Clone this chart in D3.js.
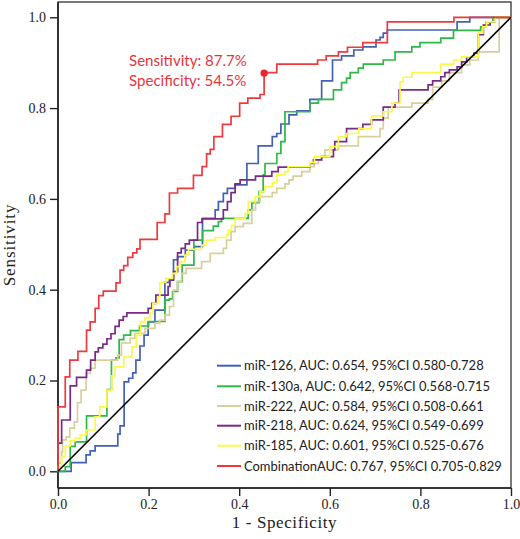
<!DOCTYPE html>
<html><head><meta charset="utf-8">
<script src="https://cdn.jsdelivr.net/npm/d3@7/dist/d3.min.js"></script>
<style>
html,body{margin:0;padding:0;background:#fff;}
svg{display:block;}
</style>
</head><body>
<svg id="chart" width="520" height="539"></svg>
<script>
// ---------- data (fpr, tpr) ----------
const seriesNames = ["miR-126","miR-130a","miR-222","miR-218","miR-185","Combination"];
const legendLabels = [
  "miR-126, AUC: 0.654, 95%CI 0.580-0.728",
  "miR-130a, AUC: 0.642, 95%CI 0.568-0.715",
  "miR-222, AUC: 0.584, 95%CI 0.508-0.661",
  "miR-218, AUC: 0.624, 95%CI 0.549-0.699",
  "miR-185, AUC: 0.601, 95%CI 0.525-0.676",
  "CombinationAUC: 0.767, 95%CI 0.705-0.829"
];
const seriesColors = ["#4361b4","#2eb845","#d8cf9c","#7a2a86","#fbf94a","#ee3a3f"];

const mir126 = [[0,0],[0.029,0.019],[0.062,0.036],[0.071,0.045],[0.082,0.056],[0.132,0.082],[0.137,0.100],[0.146,0.197],[0.156,0.205],[0.165,0.217],[0.172,0.245],[0.181,0.276],[0.190,0.300],[0.199,0.329],[0.214,0.355],[0.236,0.416],[0.246,0.424],[0.255,0.466],[0.264,0.473],[0.281,0.487],[0.300,0.495],[0.319,0.557],[0.347,0.576],[0.354,0.594],[0.365,0.612],[0.374,0.623],[0.391,0.631],[0.417,0.678],[0.442,0.717],[0.473,0.737],[0.483,0.744],[0.492,0.765],[0.510,0.785],[0.527,0.794],[0.556,0.819],[0.582,0.860],[0.606,0.906],[0.626,0.915],[0.653,0.928],[0.673,0.935],[0.702,0.950],[0.711,0.956],[0.718,0.965],[0.727,0.972],[0.881,0.990],[0.909,1.0],[1,1]];

const mir130a = [[0,0],[0.016,0.010],[0.027,0.055],[0.038,0.065],[0.063,0.122],[0.108,0.180],[0.118,0.245],[0.128,0.250],[0.135,0.290],[0.145,0.300],[0.160,0.310],[0.180,0.320],[0.200,0.330],[0.236,0.377],[0.246,0.380],[0.253,0.396],[0.264,0.418],[0.274,0.454],[0.300,0.509],[0.319,0.530],[0.343,0.540],[0.354,0.550],[0.361,0.557],[0.420,0.576],[0.428,0.592],[0.444,0.616],[0.453,0.653],[0.457,0.678],[0.483,0.700],[0.492,0.726],[0.501,0.792],[0.556,0.811],[0.575,0.819],[0.608,0.840],[0.626,0.856],[0.637,0.866],[0.645,0.878],[0.663,0.888],[0.674,0.897],[0.718,0.906],[0.744,0.924],[0.781,0.935],[0.799,0.944],[0.845,0.954],[0.873,0.971],[0.933,0.979],[0.945,0.990],[0.960,1.0],[1,1]];

const mir222 = [[0,0],[0,0.018],[0.008,0.043],[0.010,0.069],[0.018,0.076],[0.026,0.095],[0.036,0.109],[0.043,0.151],[0.051,0.179],[0.062,0.216],[0.071,0.227],[0.082,0.245],[0.132,0.256],[0.140,0.283],[0.159,0.293],[0.170,0.304],[0.192,0.315],[0.214,0.326],[0.225,0.333],[0.236,0.344],[0.246,0.363],[0.255,0.399],[0.263,0.418],[0.273,0.436],[0.283,0.447],[0.317,0.462],[0.336,0.480],[0.365,0.491],[0.372,0.509],[0.382,0.528],[0.391,0.539],[0.409,0.546],[0.428,0.576],[0.436,0.594],[0.446,0.605],[0.473,0.614],[0.483,0.623],[0.501,0.633],[0.510,0.642],[0.519,0.650],[0.538,0.660],[0.556,0.671],[0.566,0.678],[0.575,0.686],[0.582,0.693],[0.589,0.708],[0.619,0.717],[0.663,0.737],[0.711,0.755],[0.718,0.778],[0.729,0.802],[0.781,0.811],[0.817,0.819],[0.827,0.846],[0.847,0.860],[0.864,0.878],[0.891,0.895],[0.909,0.906],[0.928,0.924],[0.974,0.998],[1,1]];

const mir218 = [[0,0],[0,0.062],[0.008,0.113],[0.027,0.188],[0.041,0.207],[0.063,0.223],[0.072,0.245],[0.082,0.263],[0.089,0.272],[0.099,0.280],[0.108,0.292],[0.117,0.303],[0.126,0.319],[0.135,0.333],[0.144,0.341],[0.152,0.349],[0.199,0.359],[0.207,0.370],[0.216,0.388],[0.243,0.407],[0.247,0.421],[0.255,0.440],[0.264,0.481],[0.272,0.491],[0.281,0.501],[0.290,0.509],[0.308,0.548],[0.318,0.556],[0.365,0.576],[0.374,0.594],[0.382,0.614],[0.391,0.633],[0.402,0.642],[0.436,0.650],[0.472,0.660],[0.486,0.670],[0.556,0.678],[0.564,0.686],[0.582,0.693],[0.608,0.708],[0.611,0.726],[0.637,0.755],[0.673,0.764],[0.692,0.774],[0.718,0.802],[0.744,0.811],[0.753,0.840],[0.817,0.851],[0.827,0.860],[0.845,0.869],[0.854,0.878],[0.864,0.884],[0.881,0.891],[0.891,0.902],[0.902,0.912],[0.918,0.921],[0.928,0.962],[0.939,0.983],[0.954,0.990],[0.965,1.0],[1,1]];

const mir185 = [[0,0],[0,0.010],[0.008,0.032],[0.016,0.056],[0.027,0.067],[0.038,0.073],[0.049,0.080],[0.062,0.091],[0.082,0.120],[0.092,0.142],[0.108,0.179],[0.119,0.210],[0.126,0.230],[0.145,0.252],[0.163,0.274],[0.173,0.300],[0.182,0.329],[0.192,0.338],[0.203,0.348],[0.209,0.370],[0.221,0.385],[0.225,0.416],[0.238,0.425],[0.253,0.436],[0.262,0.451],[0.269,0.462],[0.280,0.476],[0.288,0.489],[0.317,0.498],[0.328,0.509],[0.347,0.515],[0.372,0.520],[0.376,0.531],[0.383,0.542],[0.391,0.557],[0.413,0.568],[0.420,0.594],[0.435,0.605],[0.446,0.616],[0.457,0.627],[0.473,0.636],[0.483,0.653],[0.501,0.660],[0.508,0.671],[0.556,0.680],[0.566,0.693],[0.600,0.715],[0.619,0.737],[0.637,0.744],[0.664,0.755],[0.692,0.783],[0.718,0.792],[0.737,0.811],[0.755,0.858],[0.762,0.868],[0.781,0.878],[0.845,0.897],[0.873,0.906],[0.891,0.913],[0.928,0.965],[0.938,0.979],[0.946,0.990],[0.965,1.0],[1,1]];

const combination = [[0,0],[0,0.142],[0.016,0.208],[0.026,0.245],[0.044,0.264],[0.063,0.311],[0.071,0.329],[0.082,0.359],[0.090,0.387],[0.100,0.397],[0.128,0.415],[0.137,0.443],[0.145,0.453],[0.154,0.471],[0.165,0.481],[0.174,0.490],[0.181,0.511],[0.219,0.548],[0.236,0.567],[0.246,0.613],[0.264,0.623],[0.299,0.652],[0.318,0.671],[0.328,0.699],[0.336,0.709],[0.344,0.737],[0.363,0.764],[0.382,0.782],[0.401,0.811],[0.419,0.822],[0.446,0.830],[0.455,0.878],[0.483,0.897],[0.573,0.906],[0.592,0.915],[0.619,0.924],[0.639,0.934],[0.673,0.944],[0.727,0.990],[0.874,1.0],[1,1]];

const cutoffPoint = [0.455, 0.877];
const cutoffLabels = ["Sensitivity: 87.7%", "Specificity: 54.5%"];
const tickValues = [0, 0.2, 0.4, 0.6, 0.8, 1.0];
const xTitle = "1 - Specificity";
const yTitle = "Sensitivity";

const allSeries = [mir126, mir130a, mir222, mir218, mir185, combination];

// ---------- layout ----------
const svg = d3.select("#chart");
const frameL = 58, frameR = 511, frameT = 2, frameB = 488;
const x = d3.scaleLinear().domain([0,1]).range([58, 511]);
const y = d3.scaleLinear().domain([0,1]).range([471.3, 17.3]);

// frame
svg.append("rect").attr("x", frameL).attr("y", frameT)
  .attr("width", frameR-frameL).attr("height", frameB-frameT)
  .attr("fill","none").attr("stroke","#222").attr("stroke-width",1.2);

// axes
const serif = "'Liberation Serif','Times New Roman',serif";
const yAxis = svg.append("g").attr("transform",`translate(${frameL},0)`)
  .call(d3.axisLeft(y).tickValues(tickValues).tickFormat(d3.format(".1f")).tickSize(8).tickPadding(4));
const xAxis = svg.append("g").attr("transform",`translate(0,${frameB})`)
  .call(d3.axisBottom(x).tickValues(tickValues).tickFormat(d3.format(".1f")).tickSize(8).tickPadding(3));
[yAxis,xAxis].forEach(g=>{
  g.select(".domain").remove();
  g.selectAll(".tick line").attr("stroke","#222").attr("stroke-width",1.4);
  g.selectAll(".tick text").attr("font-family",serif).attr("font-size",14).attr("fill","#222");
});
// heavier left and bottom axis lines
svg.append("line").attr("x1",frameL).attr("x2",frameL).attr("y1",frameT).attr("y2",frameB)
  .attr("stroke","#222").attr("stroke-width",1.6);
svg.append("line").attr("x1",frameL).attr("x2",frameR).attr("y1",frameB).attr("y2",frameB)
  .attr("stroke","#222").attr("stroke-width",1.6);

// axis titles
svg.append("text").attr("x", (frameL+frameR)/2).attr("y", 528)
  .attr("text-anchor","middle").attr("font-family",serif).attr("font-size",17)
  .attr("letter-spacing",0.6).attr("fill","#222").text(xTitle);
svg.append("text").attr("transform",`translate(15,${(frameT+frameB)/2}) rotate(-90)`)
  .attr("text-anchor","middle").attr("font-family",serif).attr("font-size",17)
  .attr("letter-spacing",0.9).attr("fill","#222").text(yTitle);

// curves
const line = d3.line().x(d=>x(d[0])).y(d=>y(d[1])).curveStepAfter ? null : null;
const stepLine = d3.line().x(d=>x(d[0])).y(d=>y(d[1])).curve(d3.curveStepAfter);
const gCurves = svg.append("g");
allSeries.forEach((s,i)=>{
  gCurves.append("path").datum(s).attr("d", stepLine)
    .attr("fill","none").attr("stroke", seriesColors[i]).attr("stroke-width",1.7)
    .attr("stroke-linejoin","miter");
});

// diagonal reference
svg.append("path").datum([[0,0],[1,1]])
  .attr("d", d3.line().x(d=>x(d[0])).y(d=>y(d[1])))
  .attr("stroke","#000").attr("stroke-width",1.6).attr("fill","none");

// cutoff point
svg.append("circle").attr("cx", x(cutoffPoint[0])).attr("cy", y(cutoffPoint[1]))
  .attr("r",3.6).attr("fill","#e8262f");

const sans = "Lato, 'Open Sans', sans-serif";
function fitText(sel, target){
  const base = 14;
  sel.attr("font-size", base);
  const w = sel.node().getComputedTextLength();
  return base*target/w;
}
// annotation
const annG = svg.append("g");
const annTexts = cutoffLabels.map((t,i)=>annG.append("text").attr("x",129).attr("y",[60.7,81][i])
  .attr("dy","0.35em").attr("font-family",sans).attr("fill","#e8333c").text(t));
const annSize = fitText(annTexts[0], 118);
annTexts.forEach(t=>t.attr("font-size", annSize));

// legend
const legG = svg.append("g");
const rowY = [365.7, 386.3, 406, 425.7, 445.7, 466];
const legTexts = [];
legendLabels.forEach((lab,i)=>{
  legG.append("line").attr("x1",217).attr("x2",241).attr("y1",rowY[i]).attr("y2",rowY[i])
    .attr("stroke",seriesColors[i]).attr("stroke-width",2);
  legTexts.push(legG.append("text").attr("x",244).attr("y",rowY[i]).attr("dy","0.35em")
    .attr("font-family",sans).attr("fill","#222").text(lab));
});
const legSize = fitText(legTexts[5], 258);
legTexts.forEach(t=>t.attr("font-size", legSize));
</script>
</body></html>
